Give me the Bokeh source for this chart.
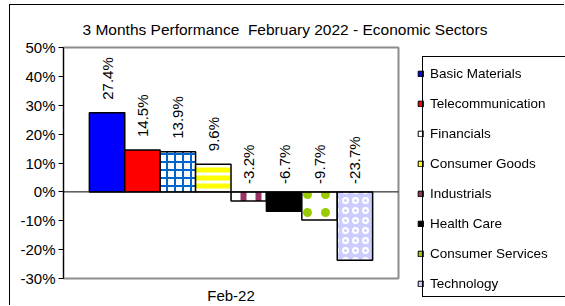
import math
from bokeh.plotting import figure
from bokeh.models import (ColumnDataSource, FactorRange, Range1d, FixedTicker,
                          NumeralTickFormatter, Span, Legend, LegendItem, Div)
from bokeh.transform import dodge
from bokeh.embed import file_html
from bokeh.resources import INLINE

# ---- data ----
months = ["Feb-22"]
sectors = ["Basic Materials", "Telecommunication", "Financials", "Consumer Goods",
           "Industrials", "Health Care", "Consumer Services", "Technology"]
values = [0.274, 0.145, 0.139, 0.096, -0.032, -0.067, -0.097, -0.237]
y_ticks = [-0.3, -0.2, -0.1, 0.0, 0.1, 0.2, 0.3, 0.4, 0.5]
title_text = "3 Months Performance\u00a0 February 2022 - Economic Sectors"

# ---- styles ----
fills = ["#0000FF", "#FF0000", "#FFFFFF", "#FFFFFF", "#FFFFFF", "#000000", "#FFFFFF", "#CCCCFF"]
legend_fills = ["#0000FF", "#FF0000", "#FFFFFF", "#FFFF00", "#993366", "#000000", "#99CC00", "#CCCCFF"]
hatches = [None, None, "+", "-", "|", None, ".", "o"]
hatch_colors = [None, None, "#0066CC", "#FFFF00", "#993366", None, "#99CC00", "#FFFFFF"]
hatch_weights = [1, 1, 2, 5, 6, 1, 8, 2]
hatch_scales = [8, 8, 8, 8, 15, 8, 18, 10]

FONT = "Liberation Sans"

p = figure(width=555, height=301,
           x_range=FactorRange(factors=months, range_padding=0),
           y_range=Range1d(-0.30, 0.50),
           output_backend="svg", toolbar_location=None,
           min_border_left=53, min_border_right=167,
           min_border_top=42, min_border_bottom=27,
           title=title_text)

p.styles = {"margin-left": "9px", "margin-top": "4px",
            "border-left": "1px solid black", "border-top": "1px solid black"}

p.title.text_font = FONT
p.title.text_font_size = "15.5px"
p.title.text_font_style = "normal"
p.title.text_color = "black"
p.title.align = "left"
p.title.offset = 19
p.title.standoff = 19

p.xgrid.visible = False
p.ygrid.visible = False
p.outline_line_color = "#8c8c8c"
p.outline_line_width = 2

p.xaxis.axis_line_color = None
p.xaxis.major_tick_line_color = None
p.xaxis.minor_tick_line_color = None
p.xaxis.major_tick_out = 0
p.xaxis.major_tick_in = 0
p.xaxis.major_label_text_font = FONT
p.xaxis.major_label_text_font_size = "15px"
p.xaxis.major_label_text_color = "black"
p.xaxis.major_label_standoff = 8

p.yaxis.ticker = FixedTicker(ticks=y_ticks)
p.yaxis.formatter = NumeralTickFormatter(format="0%")
p.yaxis.axis_line_color = "black"
p.yaxis.major_tick_line_color = "black"
p.yaxis.major_tick_out = 5
p.yaxis.major_tick_in = 0
p.yaxis.minor_tick_line_color = None
p.yaxis.major_label_text_font = FONT
p.yaxis.major_label_text_font_size = "15px"
p.yaxis.major_label_text_color = "black"
p.yaxis.major_label_standoff = 3

bar_w = 0.1057
n = len(sectors)
for i, (name, v) in enumerate(zip(sectors, values)):
    off = (i - (n - 1) / 2) * bar_w
    src = ColumnDataSource(dict(m=[months[0]], v=[v], ly=[max(v, 0)],
                                lab=[f"{v * 100:.1f}%"],
                                yo=[-13 if v > 0 else -8]))
    kw = {}
    if hatches[i]:
        kw = dict(hatch_pattern=hatches[i], hatch_color=hatch_colors[i],
                  hatch_weight=hatch_weights[i], hatch_scale=hatch_scales[i])
    p.vbar(x=dodge("m", off, range=p.x_range), top="v", bottom=0, width=bar_w,
           source=src, fill_color=fills[i], line_color="black", line_width=1.5, **kw)
    p.text(x=dodge("m", off, range=p.x_range), y="ly", text="lab", source=src,
           angle=math.pi / 2, text_align="left", text_baseline="middle",
           y_offset="yo", text_font={"value": FONT}, text_font_size="15px",
           text_color="black")

p.add_layout(Span(location=0, dimension="width", line_color="black", line_width=1))

# ---- legend: separate small figure placed over the right part of the page ----
lg = figure(width=153, height=262,
            x_range=FactorRange(factors=months), y_range=Range1d(1, 2),
            output_backend="svg", toolbar_location=None,
            x_axis_location=None, y_axis_location=None,
            min_border=0, min_border_left=0, min_border_right=0,
            min_border_top=0, min_border_bottom=0)
lg.grid.visible = False
lg.outline_line_color = None
lg.background_fill_color = "white"
lg.border_fill_color = "white"
lg.styles = {"position": "fixed", "left": "412px", "top": "40px"}

items = []
for i, (name, c) in enumerate(zip(sectors, legend_fills)):
    s = ColumnDataSource(dict(m=[months[0]], v=[values[i]]))
    r = lg.vbar(x="m", top="v", bottom=0, width=0.1, source=s, fill_color=c,
                line_color="black", line_width=1)
    items.append(LegendItem(label=name, renderers=[r]))

legend = Legend(items=items, location=(5, 11), border_line_color=None,
                padding=7, spacing=14, margin=0,
                glyph_width=7, glyph_height=7, label_standoff=6,
                label_height=16, label_width=125,
                label_text_font=FONT, label_text_font_size="13.5px",
                label_text_color="black", background_fill_color="white",
                background_fill_alpha=0)
lg.add_layout(legend)

# legend frame (left, top and bottom edges; the right edge lies past the page)
box = Div(text="", width=150, height=241,
          styles={"position": "fixed", "left": "417px", "top": "51px",
                  "width": "150px", "height": "241px", "box-sizing": "border-box",
                  "border": "1px solid black", "pointer-events": "none"})

open("out.html", "w").write(file_html([p, lg, box], INLINE))
